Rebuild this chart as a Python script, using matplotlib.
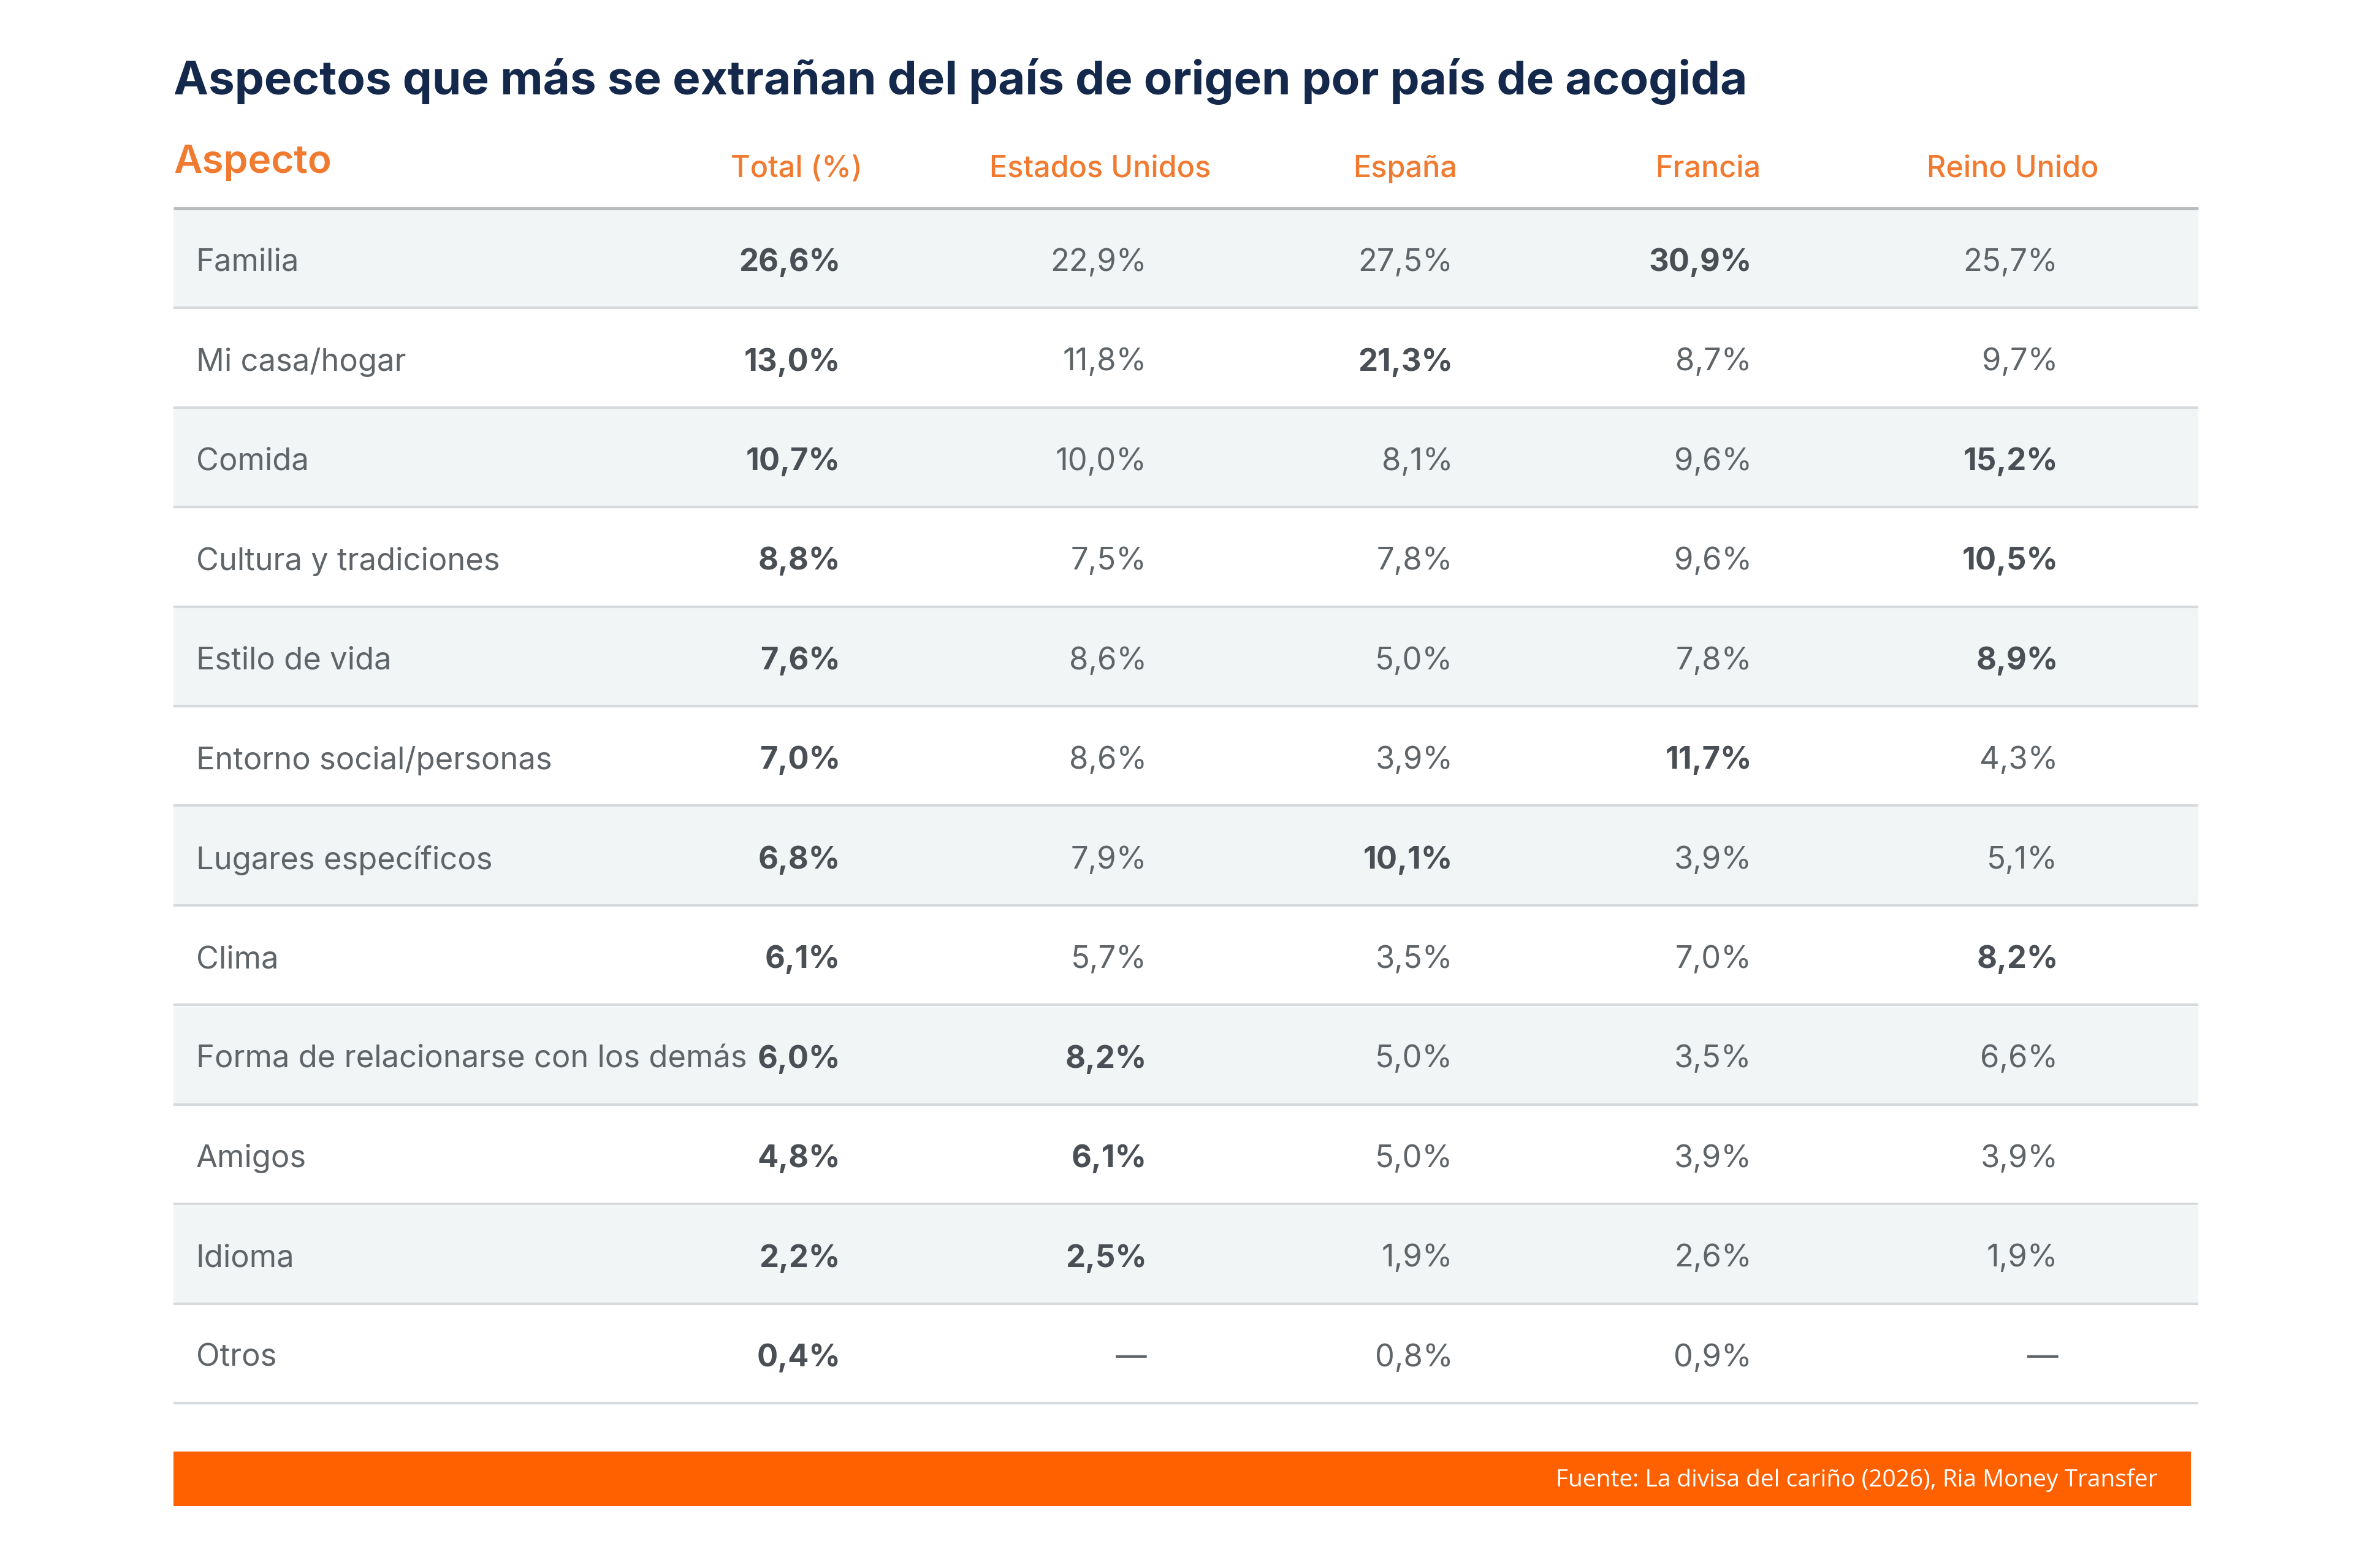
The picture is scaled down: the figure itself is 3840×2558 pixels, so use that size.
import matplotlib.pyplot as plt
from matplotlib.patches import Rectangle

# Data
title = "Aspectos que más se extrañan del país de origen por país de acogida"
columns = ["Total (%)", "Estados Unidos", "España", "Francia", "Reino Unido"]
aspects = ["Familia", "Mi casa/hogar", "Comida", "Cultura y tradiciones",
           "Estilo de vida", "Entorno social/personas", "Lugares específicos",
           "Clima", "Forma de relacionarse con los demás", "Amigos",
           "Idioma", "Otros"]
total = [26.6, 13.0, 10.7, 8.8, 7.6, 7.0, 6.8, 6.1, 6.0, 4.8, 2.2, 0.4]
estados_unidos = [22.9, 11.8, 10.0, 7.5, 8.6, 8.6, 7.9, 5.7, 8.2, 6.1, 2.5, None]
espana = [27.5, 21.3, 8.1, 7.8, 5.0, 3.9, 10.1, 3.5, 5.0, 5.0, 1.9, 0.8]
francia = [30.9, 8.7, 9.6, 9.6, 7.8, 11.7, 3.9, 7.0, 3.5, 3.9, 2.6, 0.9]
reino_unido = [25.7, 9.7, 15.2, 10.5, 8.9, 4.3, 5.1, 8.2, 6.6, 3.9, 1.9, None]
# column (1-4) highlighted in bold per row, None = no highlight
highlight = [3, 2, 4, 4, 4, 3, 2, 4, 1, 1, 1, None]
source = "Fuente: La divisa del cariño (2026), Ria Money Transfer"

series = [total, estados_unidos, espana, francia, reino_unido]

NAVY = "#13284b"
ORANGE = "#f07a30"
TEXT = "#5f6468"
BOLD_TEXT = "#4a4f55"
BAND = "#f2f5f6"
LINE = "#d6dadd"
BAR = "#ff6000"

plt.rcParams['font.family'] = ['Inter', 'DejaVu Sans']

fig = plt.figure(figsize=(38.4, 25.58), dpi=100)
ax = fig.add_axes([0, 0, 1, 1])
ax.set_xlim(0, 1560)
ax.set_ylim(1039.2, 0)
ax.axis('off')

left, right = 115, 1457
header_y = 111
top = 138
row_h = 66
val_right = [557, 760, 963, 1161, 1364]
head_center = [528, 729, 931, 1132, 1334]

ax.text(left, 54, title, fontsize=55, fontweight='bold', color=NAVY,
        va='center', ha='left')
ax.text(left, header_y - 3, "Aspecto", fontsize=46, fontweight='semibold',
        color=ORANGE, va='center', ha='left')
for c, name in enumerate(columns):
    ax.text(head_center[c], header_y + 1, name, fontsize=35,
            fontweight='medium', color=ORANGE, va='center', ha='center')

ax.plot([left, right], [top, top], color="#b8bcbf", lw=3.5,
        solid_capstyle='butt')

for i, name in enumerate(aspects):
    y0 = top + i * row_h
    yc = y0 + row_h / 2
    if i % 2 == 0:
        ax.add_patch(Rectangle((left, y0 + 1), right - left, row_h - 1,
                               facecolor=BAND, edgecolor='none'))
    ax.plot([left, right], [y0 + row_h, y0 + row_h], color=LINE, lw=3,
            solid_capstyle='butt')
    ax.text(130, yc + 3, name, fontsize=36.5, color=TEXT, va='center',
            ha='left')
    for c, vals in enumerate(series):
        v = vals[i]
        label = "—" if v is None else f"{v:.1f}%".replace(".", ",")
        bold = c == 0 or highlight[i] == c
        ax.text(val_right[c], yc + 3, label, fontsize=36.5,
                fontweight='bold' if bold else 'normal',
                color=BOLD_TEXT if bold else TEXT, va='center', ha='right')

ax.add_patch(Rectangle((left, 962), 1452 - left, 36, facecolor=BAR,
                       edgecolor='none'))
ax.text(1430, 981, source, fontsize=28, color='white', va='center',
        ha='right', family=['Open Sans', 'DejaVu Sans'])

fig.savefig("out.png", dpi=100, facecolor='white')
